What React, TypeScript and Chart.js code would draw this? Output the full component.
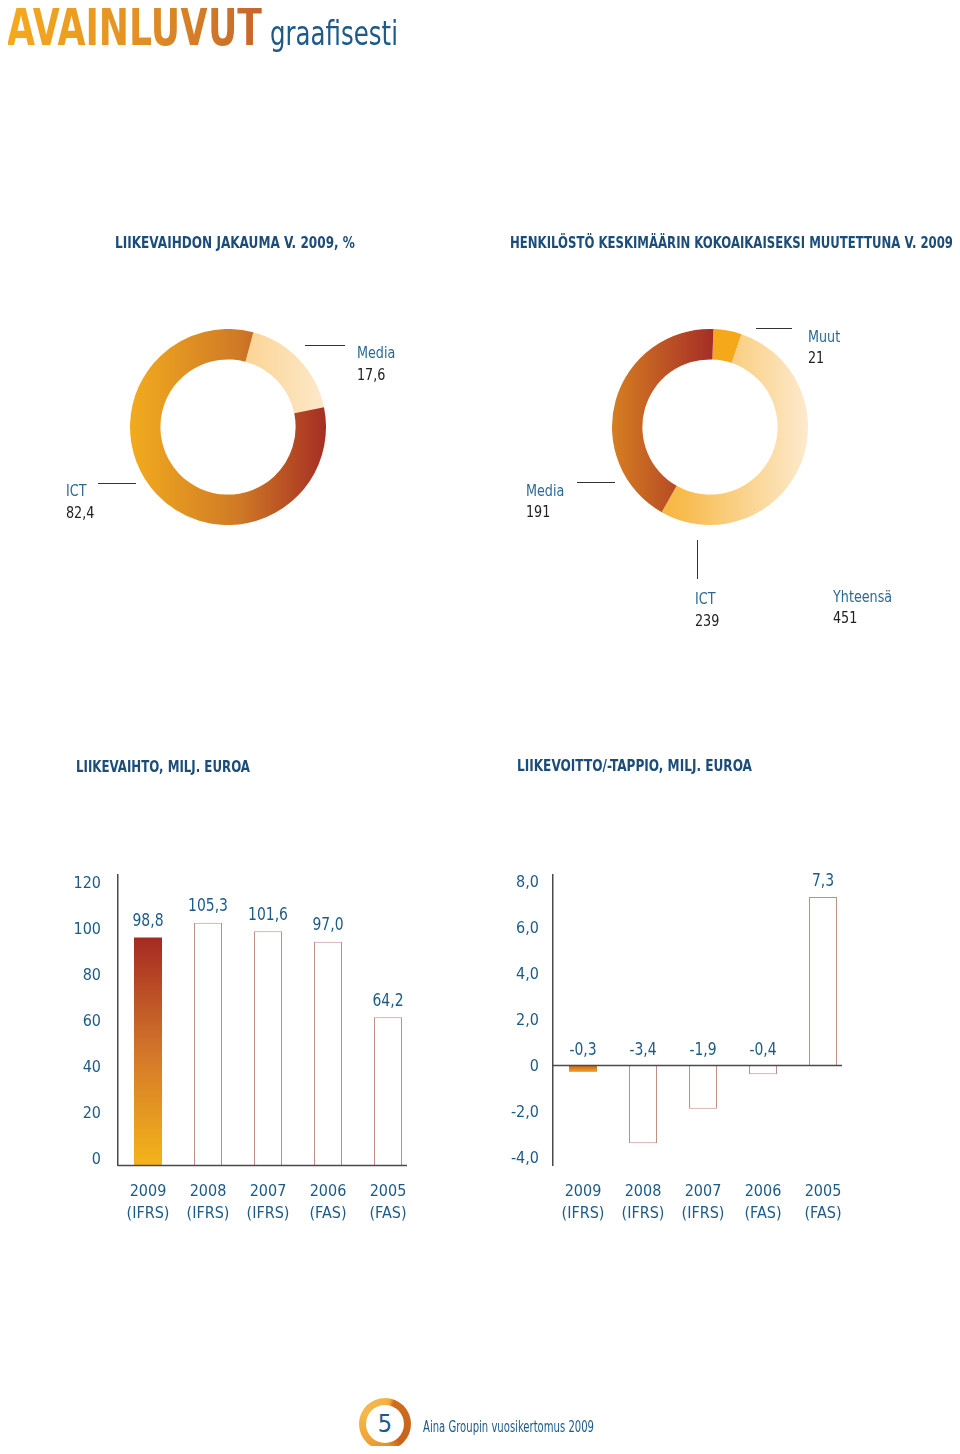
import React, { useEffect, useLayoutEffect, useRef } from 'react';
import { Chart, registerables } from 'chart.js';
Chart.register(...registerables);

const FONT = "'Liberation Sans Narrow', 'DejaVu Sans Condensed', 'Open Sans', sans-serif";
const BLUE = '#1d5b87';
const HEAD = '#1c4c78';
const LABEL = '#2c6a94';
const DARK = '#222222';

// Donut 1: revenue split 2009, %
const revenueSplitLabels = ['Media', 'ICT'];
const revenueSplitValues = [17.6, 82.4];

// Donut 2: personnel 2009
const staffLabels = ['Muut', 'ICT', 'Media'];
const staffValues = [21, 239, 191];
const staffTotal = 451;

// Bar charts
const yearLabels = [['2009', '(IFRS)'], ['2008', '(IFRS)'], ['2007', '(IFRS)'], ['2006', '(FAS)'], ['2005', '(FAS)']];
const revenueValues = [98.8, 105.3, 101.6, 97.0, 64.2];
const revenueTickLabels = ['0', '20', '40', '60', '80', '100', '120'];
const profitValues = [-0.3, -3.4, -1.9, -0.4, 7.3];
const profitTickLabels = ['-4,0', '-2,0', '0', '2,0', '4,0', '6,0', '8,0'];

Chart.defaults.font.family = FONT;

const fmt1 = (v: number) => v.toFixed(1).replace('.', ',');

type Stops = Array<[number, string]>;

function donutConfig(labels: string[], values: number[], stops: Stops[], rotation: number): any {
  return {
    type: 'doughnut',
    data: {
      labels,
      datasets: [{
        data: values,
        borderWidth: 0,
        backgroundColor: (c: any) => {
          const chart = c.chart;
          const a = chart.chartArea;
          const s = stops[c.dataIndex];
          if (!a) return s[0][1];
          const cx = (a.left + a.right) / 2;
          const r = Math.min(a.right - a.left, a.bottom - a.top) / 2;
          const g = chart.ctx.createLinearGradient(cx - r, 0, cx + r, 0);
          s.forEach(([o, col]) => g.addColorStop(o, col));
          return g;
        },
      }],
    },
    options: {
      responsive: false,
      animation: false,
      events: [],
      cutout: '69%',
      rotation,
      layout: { padding: 0 },
      plugins: { legend: { display: false }, tooltip: { enabled: false } },
    },
  };
}

// value labels above bars (negative values: above the zero line)
const valueLabels = {
  id: 'valueLabels',
  afterDatasetsDraw(chart: any) {
    const meta = chart.getDatasetMeta(0);
    const data = chart.data.datasets[0].data as number[];
    const ctx = chart.ctx;
    const zero = chart.scales.y.getPixelForValue(0);
    ctx.save();
    ctx.font = `18px ${FONT}`;
    ctx.fillStyle = BLUE;
    ctx.textAlign = 'center';
    ctx.textBaseline = 'middle';
    meta.data.forEach((bar: any, i: number) => {
      const v = data[i];
      const y = v >= 0 ? bar.y - 16 : zero - 15;
      ctx.save();
      ctx.translate(bar.x, y);
      ctx.scale(0.86, 1);
      ctx.fillText(fmt1(v), 0, 0);
      ctx.restore();
    });
    ctx.restore();
  },
};

// baseline at value 0, from the y axis to just past the last bar
const baseline = {
  id: 'baseline',
  afterDatasetsDraw(chart: any) {
    const meta = chart.getDatasetMeta(0);
    const last = meta.data[meta.data.length - 1];
    const y = Math.round(chart.scales.y.getPixelForValue(0)) + 0.5;
    const ctx = chart.ctx;
    ctx.save();
    ctx.strokeStyle = '#4a4a4a';
    ctx.lineWidth = 1.5;
    ctx.beginPath();
    ctx.moveTo(chart.chartArea.left, y);
    ctx.lineTo(last.x + last.width / 2 + 5, y);
    ctx.stroke();
    ctx.restore();
  },
};

function barConfig(opts: {
  values: number[];
  min: number;
  max: number;
  step: number;
  tick: (v: number) => string;
  labelOffset: number;
  yWidth: number;
  tickPad: number;
  padRight: number;
  firstStops: Array<[number, string]>;
}): any {
  const { values } = opts;
  return {
    type: 'bar',
    data: {
      labels: yearLabels,
      datasets: [{
        data: values,
        barPercentage: 0.467,
        categoryPercentage: 1,
        borderWidth: (c: any) => (c.dataIndex === 0 ? 0 : 1),
        borderColor: '#bf8f86',
        backgroundColor: (c: any) => {
          if (c.dataIndex !== 0) return '#ffffff';
          const chart = c.chart;
          if (!chart.chartArea) return opts.firstStops[0][1];
          const y = chart.scales.y;
          const g = chart.ctx.createLinearGradient(0, y.getPixelForValue(0), 0, y.getPixelForValue(values[0]));
          opts.firstStops.forEach(([o, col]) => g.addColorStop(o, col));
          return g;
        },
      }],
    },
    options: {
      responsive: false,
      animation: false,
      events: [],
      layout: { padding: { top: 15, right: opts.padRight, left: 0, bottom: 0 } },
      plugins: { legend: { display: false }, tooltip: { enabled: false } },
      scales: {
        x: {
          grid: { display: false, drawTicks: false },
          border: { display: false },
          ticks: { color: BLUE, font: { size: 16, lineHeight: 1.36 }, padding: 16, maxRotation: 0, autoSkip: false },
          afterFit: (s: any) => { s.height = 75; s.paddingLeft = 0; s.paddingRight = 0; },
        },
        y: {
          min: opts.min,
          max: opts.max,
          grid: { display: false, drawTicks: false },
          border: { display: true, color: '#4a4a4a', width: 1.5 },
          ticks: {
            stepSize: opts.step,
            includeBounds: false,
            color: BLUE,
            font: { size: 16 },
            padding: opts.tickPad,
            labelOffset: opts.labelOffset,
            callback: (v: any) => opts.tick(Number(v)),
          },
          afterFit: (s: any) => { s.width = opts.yWidth; s.paddingTop = 0; s.paddingBottom = 0; },
        },
      },
    },
    plugins: [baseline, valueLabels],
  };
}

function ChartCanvas({ config, left, top, width, height }: { config: () => any; left: number; top: number; width: number; height: number }) {
  const ref = useRef<HTMLCanvasElement | null>(null);
  useEffect(() => {
    if (!ref.current) return;
    const chart = new Chart(ref.current, config());
    return () => chart.destroy();
  }, []);
  return (
    <canvas
      ref={ref}
      width={width}
      height={height}
      style={{ position: 'absolute', left, top, width, height }}
    />
  );
}

// Text squeezed horizontally: either by a fixed factor (sx) or to a target width (w)
function T({ x, y, size = 16.5, color = LABEL, weight = 400, children, sx = 0.86, w, lh, style }: any) {
  const ref = useRef<HTMLDivElement | null>(null);
  const lineH = lh ?? Math.round(size * 1.25);
  useLayoutEffect(() => {
    const el = ref.current;
    if (!el) return;
    el.style.transform = 'none';
    const nat = el.getBoundingClientRect().width;
    const k = w ? w / nat : sx;
    el.style.transform = `scaleX(${k})`;
  }, []);
  return (
    <div
      ref={ref}
      style={{
        position: 'absolute',
        left: x,
        top: y - lineH / 2,
        fontSize: size,
        lineHeight: `${lineH}px`,
        color,
        fontWeight: weight,
        whiteSpace: 'nowrap',
        transformOrigin: 'left center',
        ...style,
      }}
    >
      {children}
    </div>
  );
}

function HLine({ x1, x2, y }: { x1: number; x2: number; y: number }) {
  return <div style={{ position: 'absolute', left: x1, top: y, width: x2 - x1, height: 1, background: '#333' }} />;
}
function VLine({ x, y1, y2 }: { x: number; y1: number; y2: number }) {
  return <div style={{ position: 'absolute', left: x, top: y1, width: 1, height: y2 - y1, background: '#333' }} />;
}

export default function App() {
  return (
    <div style={{ position: 'relative', width: 960, height: 1454, margin: -8, background: '#fff', fontFamily: FONT, overflow: 'hidden' }}>
      {/* Title */}
      <T
        x={7} y={27} size={53} lh={62} w={255} weight={700}
        style={{
          background: 'linear-gradient(90deg, #f5aa1c 0%, #e29224 50%, #c6652a 100%)',
          WebkitBackgroundClip: 'text', backgroundClip: 'text', color: 'transparent',
        }}
      >
        AVAINLUVUT
      </T>
      <T x={270} y={33} size={34} color="#1d5a8a" w={128}>graafisesti</T>

      {/* Section headings */}
      <T x={115} y={243} size={15.5} color={HEAD} weight={700} w={240}>LIIKEVAIHDON JAKAUMA V. 2009, %</T>
      <T x={510} y={243} size={15.5} color={HEAD} weight={700} w={443}>HENKILÖSTÖ KESKIMÄÄRIN KOKOAIKAISEKSI MUUTETTUNA V. 2009</T>
      <T x={76} y={767} size={15.5} color={HEAD} weight={700} w={174}>LIIKEVAIHTO, MILJ. EUROA</T>
      <T x={517} y={766} size={15.5} color={HEAD} weight={700} w={235}>LIIKEVOITTO/-TAPPIO, MILJ. EUROA</T>

      {/* Donut 1 */}
      <ChartCanvas
        left={130} top={329} width={196} height={196}
        config={() => donutConfig(
          revenueSplitLabels, revenueSplitValues,
          [
            [[0, '#fbd08c'], [0.6, '#fbd595'], [1, '#fde9cc']],
            [[0, '#f2ab1e'], [0.55, '#d07a26'], [1, '#a52e22']],
          ],
          15,
        )}
      />
      <HLine x1={305} x2={345} y={345} />
      <T x={357} y={352}>{revenueSplitLabels[0]}</T>
      <T x={357} y={374} color={DARK}>{fmt1(revenueSplitValues[0])}</T>
      <HLine x1={98} x2={136} y={483} />
      <T x={66} y={490}>{revenueSplitLabels[1]}</T>
      <T x={66} y={512} color={DARK}>{fmt1(revenueSplitValues[1])}</T>

      {/* Donut 2 */}
      <ChartCanvas
        left={612} top={329} width={196} height={196}
        config={() => donutConfig(
          staffLabels, staffValues,
          [
            [[0, '#f5a81a'], [1, '#f5a81a']],
            [[0, '#f4a82c'], [0.35, '#f8bb4c'], [1, '#fdeacd']],
            [[0, '#d67e22'], [0.52, '#a52d26'], [1, '#a52d26']],
          ],
          2,
        )}
      />
      <HLine x1={756} x2={792} y={328} />
      <T x={808} y={336}>{staffLabels[0]}</T>
      <T x={808} y={357} color={DARK}>{staffValues[0]}</T>
      <HLine x1={577} x2={615} y={482} />
      <T x={526} y={490}>{staffLabels[2]}</T>
      <T x={526} y={511} color={DARK}>{staffValues[2]}</T>
      <VLine x={697} y1={540} y2={579} />
      <T x={695} y={598}>{staffLabels[1]}</T>
      <T x={695} y={620} color={DARK}>{staffValues[1]}</T>
      <T x={833} y={596}>Yhteensä</T>
      <T x={833} y={617} color={DARK}>{staffTotal}</T>

      {/* Bar chart 1: revenue */}
      <ChartCanvas
        left={40} top={860} width={390} height={380}
        config={() => barConfig({
          values: revenueValues,
          min: 0,
          max: 126,
          step: 20,
          tick: (v) => revenueTickLabels[Math.round(v / 20)] ?? '',
          labelOffset: -5,
          yWidth: 78,
          tickPad: 17,
          padRight: 12,
          firstStops: [[0, '#f5b41a'], [0.5, '#d2762a'], [1, '#a52a22']],
        })}
      />

      {/* Bar chart 2: operating profit */}
      <ChartCanvas
        left={480} top={860} width={390} height={380}
        config={() => barConfig({
          values: profitValues,
          min: -4.35,
          max: 8.26,
          step: 2,
          tick: (v) => profitTickLabels[Math.round((v + 4) / 2)] ?? '',
          labelOffset: 2,
          yWidth: 73,
          tickPad: 14,
          padRight: 17,
          firstStops: [[0, '#c8601c'], [1, '#f0a224']],
        })}
      />

      {/* Footer */}
      <div
        style={{
          position: 'absolute', left: 359, top: 1398, width: 52, height: 52, borderRadius: '50%',
          background: 'conic-gradient(#f3b445 0deg, #f0a838 12deg, #cf6c1e 22deg, #c8621c 140deg, #e0902a 170deg, #eea235 220deg, #f5b84c 300deg, #f3b445 360deg)',
        }}
      >
        <div style={{ position: 'absolute', left: 7, top: 7, width: 38, height: 38, borderRadius: '50%', background: '#fff' }} />
      </div>
      <div style={{ position: 'absolute', left: 359, top: 1408, width: 52, textAlign: 'center', fontSize: 25, lineHeight: '32px', color: BLUE }}>5</div>
      <T x={423} y={1427} size={15} color={BLUE} w={171}>Aina Groupin vuosikertomus 2009</T>
    </div>
  );
}
